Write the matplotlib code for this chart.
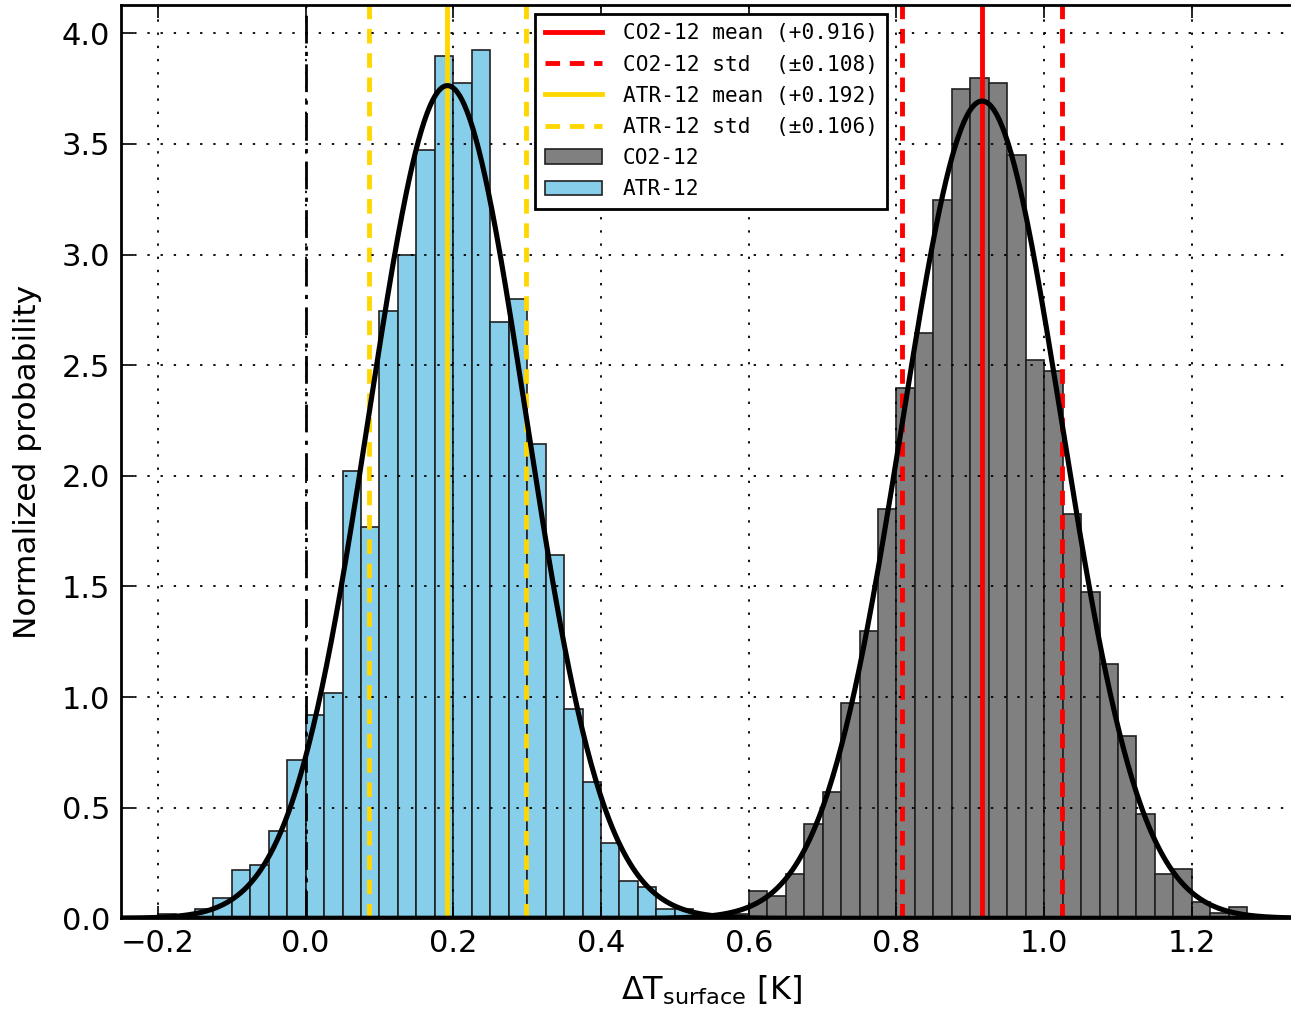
import numpy as np
import matplotlib
matplotlib.use("Agg")
import matplotlib.pyplot as plt
from matplotlib.patches import Patch
from matplotlib.lines import Line2D

# ---- data ----
bin_width = 0.025
atr_start = -0.2
atr_density = [0.02, 0.01, 0.042, 0.093, 0.217, 0.241, 0.393, 0.717, 0.917, 1.017,
               2.020, 1.770, 2.746, 2.997, 3.473, 3.899, 3.774, 3.925, 2.697, 2.798,
               2.145, 1.643, 0.945, 0.618, 0.340, 0.167, 0.143, 0.042, 0.042]
co2_start = 0.575
co2_density = [0.02, 0.123, 0.099, 0.199, 0.424, 0.573, 0.974, 1.300, 1.849, 2.397,
               2.647, 3.247, 3.748, 3.799, 3.774, 3.449, 2.522, 2.472, 1.826, 1.476,
               1.149, 0.823, 0.473, 0.199, 0.224, 0.074, 0.023, 0.050]
co2_mean, co2_std = 0.916, 0.108
atr_mean, atr_std = 0.192, 0.106
xticks = [-0.2, 0.0, 0.2, 0.4, 0.6, 0.8, 1.0, 1.2]
yticks = [0.0, 0.5, 1.0, 1.5, 2.0, 2.5, 3.0, 3.5, 4.0]

W, H = 1291, 1011
fig = plt.figure(figsize=(W / 100, H / 100), dpi=100)
ax_l, ax_b, ax_t = 121, 918.3, 5
ax_w = 1.6 * 738.5
ax = fig.add_axes([ax_l / W, (H - ax_b) / H, ax_w / W, (ax_b - ax_t) / H])

atr_edges = atr_start + bin_width * np.arange(len(atr_density) + 1)
co2_edges = co2_start + bin_width * np.arange(len(co2_density) + 1)

ax.bar(co2_edges[:-1], co2_density, width=bin_width, align='edge',
       color='gray', edgecolor='#202020', linewidth=1.2, zorder=1)
ax.bar(atr_edges[:-1], atr_density, width=bin_width, align='edge',
       color='skyblue', edgecolor='#202020', linewidth=1.2, zorder=1)

ax.grid(True, color='k', linestyle=(0, (1.3, 6)), linewidth=1.3, zorder=1.5)
ax.set_axisbelow(False)

dash = (3, 2)
ax.axvline(0.0, color='k', linestyle='-.', linewidth=2, dashes=(10, 3, 1.5, 3), zorder=2)
ax.axvline(co2_mean, color='red', linewidth=3.5, zorder=2)
ax.axvline(co2_mean - co2_std, color='red', linestyle='--', linewidth=3.5, dashes=dash, zorder=2)
ax.axvline(co2_mean + co2_std, color='red', linestyle='--', linewidth=3.5, dashes=dash, zorder=2)
ax.axvline(atr_mean, color='gold', linewidth=3.5, zorder=2)
ax.axvline(atr_mean - atr_std, color='gold', linestyle='--', linewidth=3.5, dashes=dash, zorder=2)
ax.axvline(atr_mean + atr_std, color='gold', linestyle='--', linewidth=3.5, dashes=dash, zorder=2)

xs = np.linspace(-0.25, 1.35, 800)
for m, s in [(co2_mean, co2_std), (atr_mean, atr_std)]:
    ax.plot(xs, np.exp(-0.5 * ((xs - m) / s) ** 2) / (s * np.sqrt(2 * np.pi)),
            color='k', linewidth=3.7, zorder=3)

ax.set_xlim(-0.25, 1.35)
ax.set_ylim(0, 4.128)
ax.set_xticks(xticks)
ax.set_yticks(yticks)
ax.set_xticklabels([f"{t:.1f}".replace('-', '\u2212') for t in xticks])
ax.set_yticklabels([f"{t:.1f}" for t in yticks])
ax.tick_params(direction='in', length=9, width=1.2, labelsize=22, top=True, right=True, pad=8)
for sp in ax.spines.values():
    sp.set_linewidth(2)

ax.set_ylabel('Normalized probability', fontsize=22.5, labelpad=14)
ax.set_xlabel(r'$\Delta\mathrm{T}_{\mathrm{surface}}$ [K]', fontsize=23, labelpad=11)

handles = [
    Line2D([], [], color='red', linewidth=3.5),
    Line2D([], [], color='red', linewidth=3.5, linestyle='--', dashes=dash),
    Line2D([], [], color='gold', linewidth=3.5),
    Line2D([], [], color='gold', linewidth=3.5, linestyle='--', dashes=dash),
    Patch(facecolor='gray', edgecolor='#202020', linewidth=1.2),
    Patch(facecolor='skyblue', edgecolor='#202020', linewidth=1.2),
]
labels = [
    f'CO2-12 mean (+{co2_mean:.3f})',
    f'CO2-12 std  (\u00b1{co2_std:.3f})',
    f'ATR-12 mean (+{atr_mean:.3f})',
    f'ATR-12 std  (\u00b1{atr_std:.3f})',
    'CO2-12',
    'ATR-12',
]
leg = ax.legend(handles, labels, loc='upper left',
                bbox_to_anchor=((535 - ax_l) / ax_w, (ax_b - 14) / (ax_b - ax_t)),
                borderaxespad=0, prop={'family': 'DejaVu Sans Mono', 'size': 15.2},
                handlelength=2.7, handletextpad=1.0, labelspacing=0.53,
                borderpad=0.45, fancybox=False, framealpha=1)
leg.get_frame().set_edgecolor('k')
leg.get_frame().set_linewidth(2)
leg.set_zorder(5)

fig.savefig('out.png', dpi=100)
